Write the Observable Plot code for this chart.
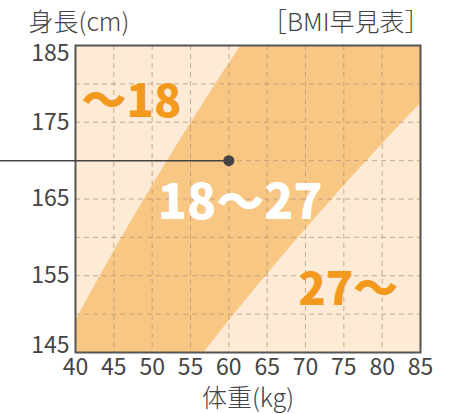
<!DOCTYPE html>
<html><head><meta charset="utf-8">
<script src="https://cdn.jsdelivr.net/npm/d3@7"></script>
<script src="https://cdn.jsdelivr.net/npm/@observablehq/plot@0.6"></script>
<style>body{margin:0;background:#fff}</style>
</head><body><div id="chart"></div>
<script>
const weightTicks = [40,45,50,55,60,65,70,75,80,85];
const heightTicks = [145,155,165,175,185];
const gridWeights = [45,50,55,60,65,70,75,80];
const gridHeights = [150,155,160,165,170,175,180];
const bmiBounds = [18, 27];
const marker = [{w:60, h:170}];
const zoneLabels = [
  {w:47.3, h:177.6, text:"～18", fill:"#f39a1e", size:45},
  {w:61.5, h:164.4, text:"18～27", fill:"#ffffff", size:48},
  {w:75.6, h:153.1, text:"27～", fill:"#f39a1e", size:45}
];
const FONT = "'Noto Sans CJK JP', 'Noto Sans', sans-serif";

const heights = d3.range(140, 190.5, 0.5);
const band = heights.map(h => ({h, lo: bmiBounds[0]*(h/100)**2, hi: bmiBounds[1]*(h/100)**2}));
const yTop = heightTicks[heightTicks.length - 1], yBottom = heightTicks[0];
const yMiddle = heightTicks.filter(t => t !== yTop && t !== yBottom);
const tickFont = {tickSize: 0, label: null, fontSize: 23, fill: "#444", className: "tk"};

const plot = Plot.plot({
  width: 462, height: 414,
  marginLeft: 75, marginRight: 42, marginTop: 45, marginBottom: 62,
  style: {fontFamily: FONT, fontSize: "23px", color: "#444", background: "#fff"},
  x: {domain: [40, 85], label: null},
  y: {domain: [145, 185], label: null},
  marks: [
    Plot.frame({fill: "#fdebd6", stroke: null}),
    Plot.areaX(band, {y: "h", x1: "lo", x2: "hi", fill: "#f9c784", clip: true}),
    Plot.ruleX(gridWeights, {stroke: "#b89a7a", strokeDasharray: "5,4", strokeWidth: 1, strokeOpacity: 0.8}),
    Plot.ruleY(gridHeights, {stroke: "#b89a7a", strokeDasharray: "5,4", strokeWidth: 1, strokeOpacity: 0.8}),
    Plot.frame({stroke: "#555", strokeWidth: 2}),
    Plot.axisX(weightTicks, {...tickFont, tickPadding: 6}),
    Plot.axisY(yMiddle, {...tickFont, tickPadding: 6}),
    Plot.axisY([yTop], {...tickFont, tickPadding: 6, dy: 8}),
    Plot.axisY([yBottom], {...tickFont, tickPadding: 6, dy: -7}),
    Plot.ruleY(marker, {y: "h", x2: "w", stroke: "#444", strokeWidth: 1.5, className: "pointer"}),
    Plot.dot(marker, {x: "w", y: "h", r: 5.5, fill: "#444", stroke: null}),
    ...zoneLabels.map(d => Plot.text([d], {x: "w", y: "h", text: "text", fill: d.fill, fontSize: d.size, fontWeight: "900", fontFamily: FONT})),
    Plot.text(["身長(cm)"], {frameAnchor: "top-left", dx: -47, dy: -23, textAnchor: "start", lineAnchor: "middle", fontSize: 25, fontWeight: 300, fill: "#444"}),
    Plot.text(["［BMI早見表］"], {frameAnchor: "top-right", dx: 9, dy: -23, textAnchor: "end", lineAnchor: "middle", fontSize: 25, fontWeight: 300, fill: "#444"}),
    Plot.text(["体重(kg)"], {frameAnchor: "bottom", dy: 46, lineAnchor: "middle", fontSize: 25, fontWeight: 300, fill: "#444"})
  ]
});
d3.select(plot).selectAll(".pointer line").attr("x1", 0);
d3.select(plot).selectAll("g[aria-label$='tick label'], .tk, .tk text").style("font-size", "23px");
document.getElementById("chart").appendChild(plot);
</script></body></html>
